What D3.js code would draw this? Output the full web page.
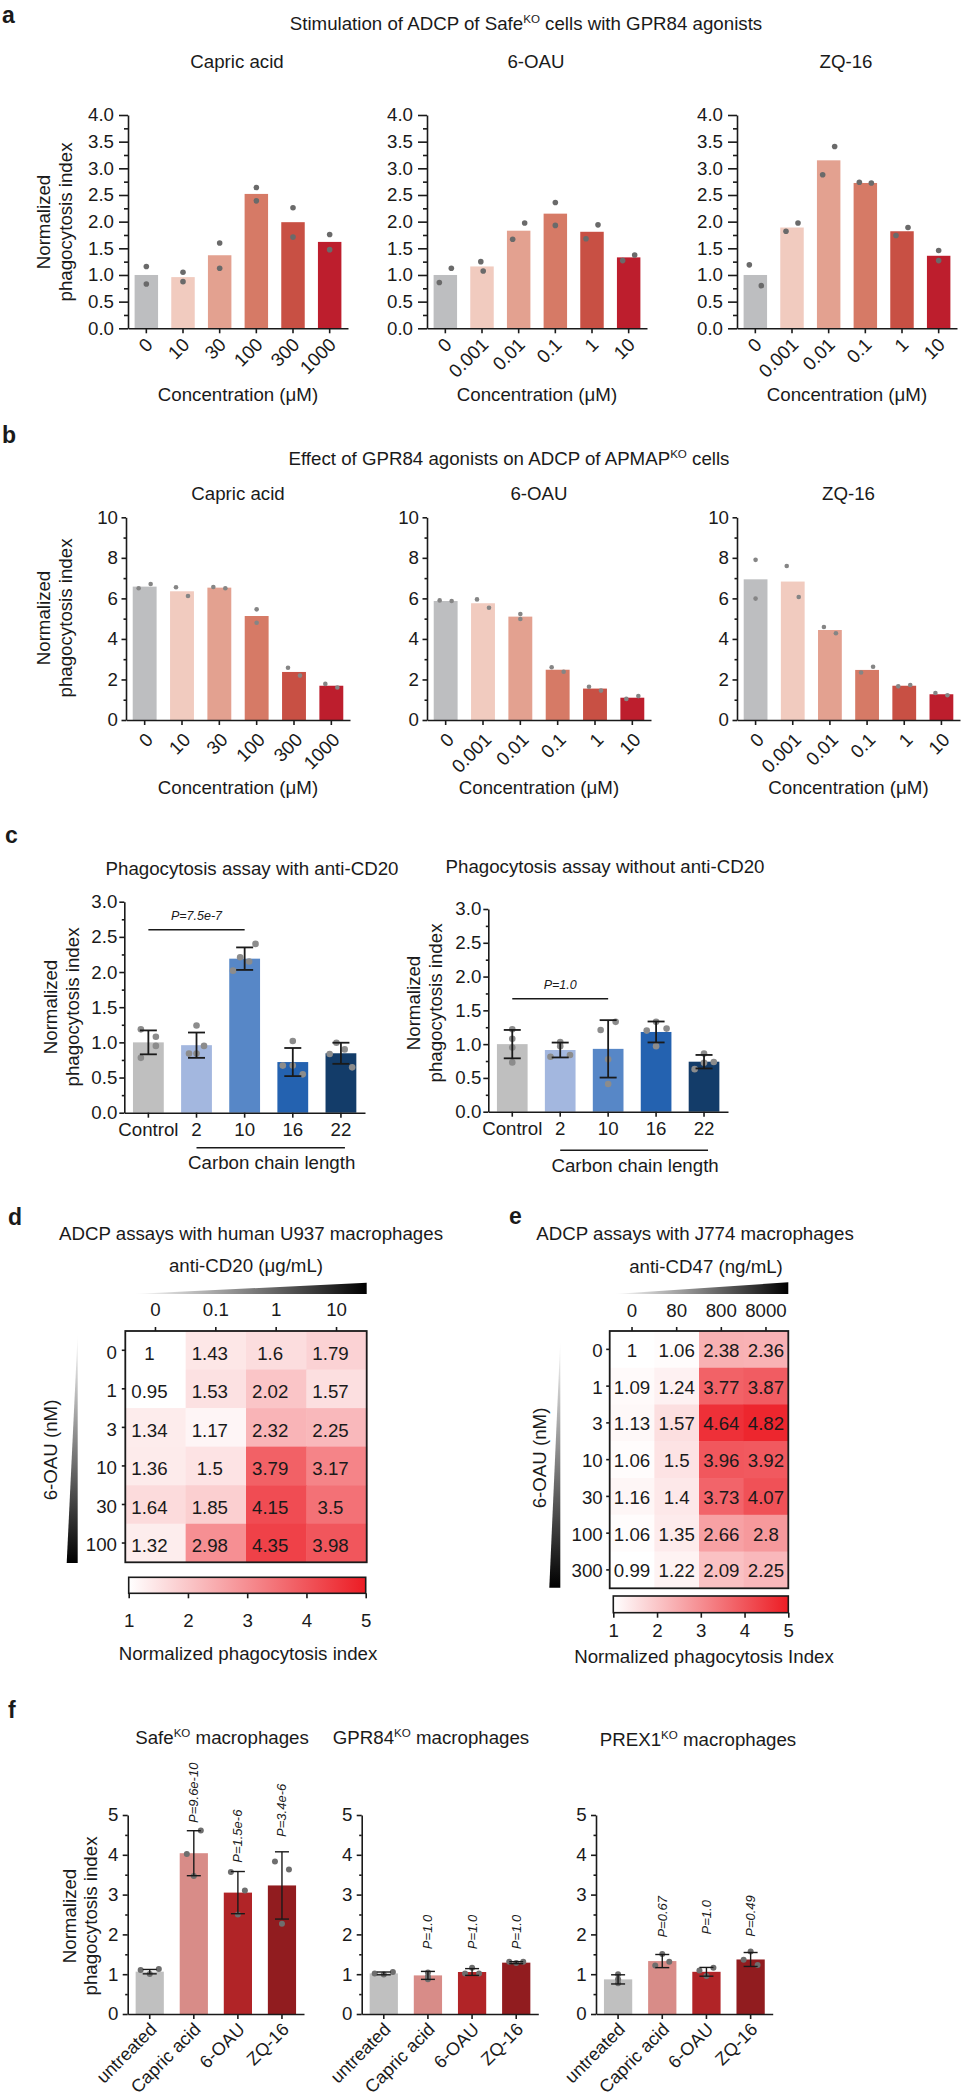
<!DOCTYPE html>
<html><head><meta charset="utf-8">
<script src="https://cdn.jsdelivr.net/npm/d3@7"></script>
<style>
body{margin:0;background:#fff;}
svg text{font-family:"Liberation Sans", Arial, sans-serif; fill:#1a1a1a;}
</style></head><body>
<svg id="fig" width="962" height="2100"></svg>
<script>
// ================= DATA =================
// Panel a / b categories
const concCapric = ["0","10","30","100","300","1000"];
const concAgonist = ["0","0.001","0.01","0.1","1","10"];
const aTicks = [0,0.5,1,1.5,2,2.5,3,3.5,4];
const bTicks = [0,2,4,6,8,10];

// Panel a: Safe KO, two replicates per condition
const aCapricMean = [1.00,0.96,1.37,2.52,1.99,1.62];
const aCapricRep1 = [1.16,1.05,1.60,2.64,2.26,1.76];
const aCapricRep2 = [0.83,0.875,1.125,2.39,1.71,1.475];
const aOauMean = [1.00,1.16,1.83,2.15,1.81,1.33];
const aOauRep1 = [0.86,1.25,1.67,2.36,1.68,1.27];
const aOauRep2 = [1.125,1.075,1.975,1.93,1.94,1.375];
const aZqMean = [1.00,1.89,3.15,2.725,1.82,1.36];
const aZqRep1 = [1.19,1.82,2.88,2.74,1.74,1.46];
const aZqRep2 = [0.80,1.975,3.41,2.725,1.89,1.27];

// Panel b: APMAP KO
const bCapricMean = [6.58,6.35,6.53,5.13,2.37,1.69];
const bCapricRep1 = [6.50,6.55,6.56,5.46,2.58,1.78];
const bCapricRep2 = [6.71,6.12,6.50,4.80,2.19,1.60];
const bOauMean = [5.87,5.76,5.10,2.48,1.55,1.10];
const bOauRep1 = [5.90,5.95,5.23,2.60,1.64,1.04];
const bOauRep2 = [5.87,5.54,4.98,2.38,1.45,1.18];
const bZqMean = [6.94,6.83,4.44,2.47,1.69,1.27];
const bZqRep1 = [7.90,7.60,4.59,2.34,1.66,1.33];
const bZqRep2 = [5.99,6.07,4.28,2.63,1.73,1.22];

// Panel c
const chainGroups = ["Control","2","10","16","22"];
const cTicks = [0,0.5,1,1.5,2,2.5,3];
const cWithMean = [1.00,0.96,2.19,0.72,0.845];
const cWithSD = [0.17,0.18,0.16,0.20,0.15];
const cWithPoints = [[1.185,1.08,0.95,0.78],[1.24,0.95,0.84,0.84],[2.40,2.21,2.15,2.02],[1.02,0.67,0.67,0.545],[0.995,0.834,0.90,0.645]];
const cWithP = "P=7.5e-7";
const cWithoutMean = [1.00,0.913,0.93,1.18,0.74];
const cWithoutSD = [0.21,0.11,0.425,0.155,0.10];
const cWithoutPoints = [[1.22,1.08,0.95,0.73],[1.03,0.97,0.814,0.84],[1.33,1.21,0.775,0.41],[1.33,1.20,1.23,0.97],[0.86,0.63,0.725,0.735]];
const cWithoutP = "P=1.0";

// Panel d heatmap
const dCols = ["0","0.1","1","10"];
const dRows = ["0","1","3","10","30","100"];
const dValues = [
  [1,1.43,1.6,1.79],
  [0.95,1.53,2.02,1.57],
  [1.34,1.17,2.32,2.25],
  [1.36,1.5,3.79,3.17],
  [1.64,1.85,4.15,3.5],
  [1.32,2.98,4.35,3.98]];
// Panel e heatmap
const eCols = ["0","80","800","8000"];
const eRows = ["0","1","3","10","30","100","300"];
const eValues = [
  [1,1.06,2.38,2.36],
  [1.09,1.24,3.77,3.87],
  [1.13,1.57,4.64,4.82],
  [1.06,1.5,3.96,3.92],
  [1.16,1.4,3.73,4.07],
  [1.06,1.35,2.66,2.8],
  [0.99,1.22,2.09,2.25]];
const cbarTicks = [1,2,3,4,5];

// Panel f
const fGroups = ["untreated","Capric acid","6-OAU","ZQ-16"];
const fTicks = [0,1,2,3,4,5];
const fSafeMean = [1.064,4.04,3.05,3.23];
const fSafeSD = [0.055,0.565,0.53,0.845];
const fSafePoints = [[1.105,1.005,1.13],[4.02,4.61,3.47],[3.57,3.10,2.50],[3.83,3.63,2.27]];
const fSafeP = ["","P=9.6e-10","P=1.5e-6","P=3.4e-6"];
const fGprMean = [1.02,0.97,1.055,1.29];
const fGprSD = [0.035,0.10,0.085,0.025];
const fGprPoints = [[1.02,0.99,1.055],[1.04,0.94,0.87],[1.02,1.16,1.02],[1.31,1.28,1.31]];
const fGprP = ["","P=1.0","P=1.0","P=1.0"];
const fPrexMean = [0.87,1.33,1.06,1.37];
const fPrexSD = [0.115,0.165,0.11,0.175];
const fPrexPoints = [[1.00,0.87,0.77],[1.51,1.22,1.31],[1.09,0.955,1.165],[1.57,1.36,1.23]];
const fPrexP = ["","P=0.67","P=1.0","P=0.49"];

// ================= DRAWING =================
const FS = 18.7;
const INK = "#1a1a1a";
const redPal = ["#bdbec0","#f1cbbf","#e3a190","#d67a66","#c85044","#bd1e2d"];
const bluePal = ["#bfbfbf","#a3b7df","#5787c7","#2462b0","#133c69"];
const fPal = ["#c0c0c0","#d88c88","#b12427","#911c1f"];
const svg = d3.select("#fig");
const defs = svg.append("defs");

function label(t,x,y){
  svg.append("text").attr("x",x).attr("y",y).attr("font-weight","bold").attr("font-size",23).text(t);
}
function rich(x,y,parts,size,anchor){
  const t = svg.append("text").attr("x",x).attr("y",y).attr("font-size",size||FS).attr("text-anchor",anchor||"middle");
  let shifted=false;
  parts.forEach(p=>{
    if(typeof p==="string"){
      const s=t.append("tspan").text(p);
      if(shifted){s.attr("dy",7.5);shifted=false;}
    } else {
      t.append("tspan").attr("dy",-7.5).attr("font-size",(size||FS)*0.62).text(p.sup);
      shifted=true;
    }
  });
  return t;
}
function yLabel(b1,cy,lines,gap){
  const g = svg.append("g").attr("transform",`translate(0,${cy}) rotate(-90)`);
  lines.forEach((l,i)=>g.append("text").attr("x",0).attr("y",b1+i*gap).attr("text-anchor","middle").attr("font-size",FS).text(l));
}
function styleAxis(sel,fs){
  sel.attr("font-size",fs||FS);
  sel.selectAll("path.domain").attr("stroke",INK).attr("stroke-width",1.6);
  sel.selectAll(".tick line").attr("stroke",INK).attr("stroke-width",1.6);
  sel.selectAll("text").attr("fill",INK);
}

function barChart(c){
  const x = d3.scaleBand().domain(c.cats).range([c.x0,c.x1]).paddingInner(0.36).paddingOuter(0.18);
  const y = d3.scaleLinear().domain([0,c.max]).range([c.yBase,c.yTop]);
  const g = svg.append("g");
  const idx = d3.range(c.cats.length);
  const cx = i => x(c.cats[i]) + x.bandwidth()/2;
  g.selectAll("rect.bar").data(idx).join("rect").attr("class","bar")
    .attr("x",i=>x(c.cats[i])).attr("width",x.bandwidth())
    .attr("y",i=>y(c.mean[i])).attr("height",i=>y(0)-y(c.mean[i]))
    .attr("fill",i=>c.colors[i]);
  const pts=[];
  c.points.forEach((arr,i)=>arr.forEach((v,j)=>pts.push({i,v,j:c.jit[i][j]})));
  g.selectAll("circle").data(pts).join("circle")
    .attr("cx",d=>cx(d.i)+d.j*c.jitPx).attr("cy",d=>y(d.v))
    .attr("r",c.dotR).attr("fill",c.dotColor);
  if(c.sd){
    const eb = g.selectAll("g.eb").data(idx).join("g").attr("class","eb")
      .attr("stroke",INK).attr("stroke-width",c.ebW).attr("fill","none");
    eb.append("line").attr("x1",cx).attr("x2",cx).attr("y1",i=>y(c.mean[i]-c.sd[i])).attr("y2",i=>y(c.mean[i]+c.sd[i]));
    eb.append("line").attr("x1",i=>cx(i)-c.capW).attr("x2",i=>cx(i)+c.capW).attr("y1",i=>y(c.mean[i]+c.sd[i])).attr("y2",i=>y(c.mean[i]+c.sd[i]));
    eb.append("line").attr("x1",i=>cx(i)-c.capW).attr("x2",i=>cx(i)+c.capW).attr("y1",i=>y(c.mean[i]-c.sd[i])).attr("y2",i=>y(c.mean[i]-c.sd[i]));
  }
  // y axis
  const ya = g.append("g").attr("transform",`translate(${c.x0},0)`)
    .call(d3.axisLeft(y).tickValues(c.yTicks).tickFormat(c.fmt).tickSize(c.tickLen).tickPadding(c.tickPad).tickSizeOuter(0));
  styleAxis(ya);
  const ym = g.append("g").attr("transform",`translate(${c.x0},0)`)
    .call(d3.axisLeft(y).tickValues(c.minor).tickFormat("").tickSize(c.minorLen).tickSizeOuter(0));
  ym.select(".domain").remove();
  styleAxis(ym);
  // x axis
  const xa = g.append("g").attr("transform",`translate(0,${c.yBase})`)
    .call(d3.axisBottom(x).tickSize(5).tickSizeOuter(0).tickPadding(c.xPad||4.7));
  styleAxis(xa, c.xFs);
  if(c.rot){
    xa.selectAll("text").attr("x",0).attr("y",0).attr("dy",0).attr("text-anchor","end")
      .attr("transform",`translate(${c.rot[0]},${c.rot[1]}) rotate(-45)`);
  }
  return {x,y,g,cx};
}

// ---------- Panel a ----------
label("a",2,23);
rich(526,30,["Stimulation of ADCP of Safe",{sup:"KO"}," cells with GPR84 agonists"]);
const aCommon = {max:4,yBase:328.3,yTop:115,yTicks:aTicks,minor:d3.range(0.25,4,0.5),fmt:d3.format(".1f"),
  tickLen:9,minorLen:4,tickPad:5,dotR:2.8,dotColor:"#6a6a6a",jitPx:6,colors:redPal,rot:[7.5,17.5]};
const aCharts = [
  {t:"Capric acid",x0:128,x1:348,cats:concCapric,mean:aCapricMean,r1:aCapricRep1,r2:aCapricRep2,j1:[0,0,0,0,0,0],j2:[0,0,0,0,0,0]},
  {t:"6-OAU",x0:427,x1:647,cats:concAgonist,mean:aOauMean,r1:aOauRep1,r2:aOauRep2,j1:[-1,-0.2,-1,0,-1,-1],j2:[1,0.2,1,0,1,1]},
  {t:"ZQ-16",x0:737,x1:957,cats:concAgonist,mean:aZqMean,r1:aZqRep1,r2:aZqRep2,j1:[-1,-1,-1,-1,-1,0],j2:[1,1,1,1,1,0]}
];
aCharts.forEach(p=>{
  barChart(Object.assign({},aCommon,{x0:p.x0,x1:p.x1,cats:p.cats,mean:p.mean,
    points:p.r1.map((v,i)=>[v,p.r2[i]]),jit:p.j1.map((v,i)=>[v,p.j2[i]])}));
  const mid=(p.x0+p.x1)/2;
  rich(mid-1,68,[p.t]);
  rich(mid,401,["Concentration (μM)"]);
});
yLabel(50,222,["Normalized","phagocytosis index"],22);

// ---------- Panel b ----------
label("b",2,443);
rich(509,465,["Effect of GPR84 agonists on ADCP of APMAP",{sup:"KO"}," cells"]);
const bCommon = {max:10,yBase:720,yTop:517.3,yTicks:bTicks,minor:[1,3,5,7,9],fmt:d3.format("d"),
  tickLen:4.5,minorLen:2.5,tickPad:3.5,dotR:2.3,dotColor:"#858585",jitPx:6,colors:redPal,rot:[9.5,21]};
const bCharts = [
  {t:"Capric acid",x0:126,x1:350,cats:concCapric,mean:bCapricMean,r1:bCapricRep1,r2:bCapricRep2,j1:[-1,-1,-1,0,-1,-1],j2:[1,1,1,0,1,1]},
  {t:"6-OAU",x0:427,x1:651,cats:concAgonist,mean:bOauMean,r1:bOauRep1,r2:bOauRep2,j1:[-1,-1,0,-1,-1,-1],j2:[1,1,0,1,1,1]},
  {t:"ZQ-16",x0:737,x1:960,cats:concAgonist,mean:bZqMean,r1:bZqRep1,r2:bZqRep2,j1:[0,-1,-1,-1,-1,-1],j2:[0,1,1,1,1,1]}
];
bCharts.forEach(p=>{
  barChart(Object.assign({},bCommon,{x0:p.x0,x1:p.x1,cats:p.cats,mean:p.mean,
    points:p.r1.map((v,i)=>[v,p.r2[i]]),jit:p.j1.map((v,i)=>[v,p.j2[i]])}));
  const mid=(p.x0+p.x1)/2;
  rich(mid,500,[p.t]);
  rich(mid,794,["Concentration (μM)"]);
});
yLabel(50,618,["Normalized","phagocytosis index"],22);

// ---------- Panel c ----------
label("c",5,843);
const cCommon = {max:3,yTicks:cTicks,minor:d3.range(0.25,3,0.5),fmt:d3.format(".1f"),tickLen:5,minorLen:2.5,tickPad:2,
  dotR:3.3,dotColor:"#8c8c8c",jitPx:7.5,colors:bluePal,ebW:1.8,capW:8.5,xPad:4.7,cats:chainGroups};
function cPanel(o){
  const ch = barChart(Object.assign({},cCommon,o));
  const x1 = ch.cx(0), x2 = ch.cx(2), yy = ch.y(o.pAt);
  svg.append("line").attr("x1",x1).attr("x2",x2).attr("y1",yy).attr("y2",yy).attr("stroke",INK).attr("stroke-width",1.5);
  svg.append("text").attr("x",(x1+x2)/2).attr("y",yy-10).attr("text-anchor","middle").attr("font-size",12.5)
    .attr("font-style","italic").attr("fill","#444").text(o.pText);
  const by = o.yBase+o.bracketDy;
  svg.append("line").attr("x1",ch.cx(1)).attr("x2",ch.cx(4)+4).attr("y1",by).attr("y2",by).attr("stroke",INK).attr("stroke-width",1.5);
  rich((ch.cx(1)+ch.cx(4))/2+3,by+21.5,["Carbon chain length"]);
}
rich(252,875,["Phagocytosis assay with anti-CD20"]);
rich(605,873,["Phagocytosis assay without anti-CD20"]);
cPanel({x0:124.3,x1:365,yBase:1112.7,yTop:901.7,mean:cWithMean,sd:cWithSD,points:cWithPoints,
  jit:[[-1,1,1,-1],[0,1,-1,0],[1.45,-0.6,0.6,-1.55],[0,-1.33,0,1.33],[-0.6,-1.5,0.5,1.5]],pAt:2.6,pText:cWithP,bracketDy:35});
cPanel({x0:488.3,x1:728,yBase:1111.7,yTop:909,mean:cWithoutMean,sd:cWithoutSD,points:cWithoutPoints,
  jit:[[0,0,0,0],[0,0,-1.3,1.3],[1,-1,0,0],[0,-1.25,1.4,0],[0,-1.25,0,1.3]],pAt:1.67,pText:cWithoutP,bracketDy:38.5});
yLabel(57,1007,["Normalized","phagocytosis index"],22);
yLabel(420,1003,["Normalized","phagocytosis index"],22);

// ---------- Panels d & e (heatmaps) ----------
const heatColor = d3.scaleLinear().domain([1,5]).range(["#ffffff","#ec1c24"]).clamp(true);
function gradient(id,x2,y2,c0,c1){
  const gr = defs.append("linearGradient").attr("id",id).attr("x1",0).attr("y1",0).attr("x2",x2).attr("y2",y2);
  gr.append("stop").attr("offset",0).attr("stop-color",c0);
  gr.append("stop").attr("offset",1).attr("stop-color",c1);
}
gradient("wedgeH",1,0,"#ffffff","#000000");
gradient("wedgeV",0,1,"#ffffff","#000000");
gradient("cbar",1,0,"#ffffff","#ec1c24");

function heatmap(h){
  const x = d3.scaleBand().domain(h.cols).range([h.x0,h.x1]);
  const y = d3.scaleBand().domain(h.rows).range([h.y0,h.y1]);
  const g = svg.append("g");
  const cells=[];
  h.values.forEach((row,ri)=>row.forEach((v,ci)=>cells.push({r:h.rows[ri],c:h.cols[ci],v})));
  g.selectAll("rect.cell").data(cells).join("rect").attr("class","cell")
    .attr("x",d=>x(d.c)).attr("y",d=>y(d.r)).attr("width",x.bandwidth()+0.5).attr("height",y.bandwidth()+0.5)
    .attr("fill",d=>heatColor(d.v));
  g.selectAll("text.val").data(cells).join("text").attr("class","val")
    .attr("x",d=>x(d.c)+x.bandwidth()/2+h.textDx).attr("y",d=>y(d.r)+y.bandwidth()/2)
    .attr("dy",h.textDy).attr("text-anchor","middle").attr("font-size",FS).text(d=>String(d.v));
  g.append("rect").attr("x",h.x0).attr("y",h.y0).attr("width",h.x1-h.x0).attr("height",h.y1-h.y0)
    .attr("fill","none").attr("stroke",INK).attr("stroke-width",1.8);
  const top = g.append("g").attr("transform",`translate(0,${h.y0})`).call(d3.axisTop(x).tickSize(4).tickPadding(h.colPad));
  top.select(".domain").remove(); styleAxis(top);
  const left = g.append("g").attr("transform",`translate(${h.x0},0)`).call(d3.axisLeft(y).tickSize(3.5).tickPadding(h.rowPad));
  left.select(".domain").remove(); styleAxis(left);
  left.selectAll("text").attr("dy",h.rowDy);
  // wedges
  svg.append("path").attr("d",`M${h.wedgeTop[0]},${h.wedgeTop[2]}L${h.x1},${h.wedgeTop[2]}L${h.x1},${h.wedgeTop[1]}Z`).attr("fill","url(#wedgeH)");
  svg.append("path").attr("d",`M${h.wedgeLeft[1]},${h.wedgeLeft[2]}L${h.wedgeLeft[1]},${h.wedgeLeft[3]}L${h.wedgeLeft[0]},${h.wedgeLeft[3]}Z`).attr("fill","url(#wedgeV)");
  // colour bar
  const cb = h.cbar;
  const cs = d3.scaleLinear().domain([1,5]).range([cb.x0,cb.x1]);
  svg.append("rect").attr("x",cb.x0).attr("y",cb.y0).attr("width",cb.x1-cb.x0).attr("height",cb.y1-cb.y0)
    .attr("fill","url(#cbar)").attr("stroke",INK).attr("stroke-width",1.6);
  const ca = svg.append("g").attr("transform",`translate(0,${cb.y1})`).call(d3.axisBottom(cs).tickValues(cbarTicks).tickFormat(d3.format("d")).tickSize(5).tickPadding(cb.pad));
  ca.select(".domain").remove(); styleAxis(ca);
  rich(cb.tx,cb.ty,[cb.title]);
}
label("d",8,1225);
rich(251,1240,["ADCP assays with human U937 macrophages"]);
rich(246,1272,["anti-CD20 (μg/mL)"]);
heatmap({cols:dCols,rows:dRows,values:dValues,x0:125.3,x1:366.7,y0:1331,y1:1562.3,textDx:-6,textDy:"0.5em",
  colPad:11,rowPad:4.8,rowDy:"0.45em",wedgeTop:[133,1282.7,1294],wedgeLeft:[66.7,77.7,1333,1563],
  cbar:{x0:128.7,x1:365.7,y0:1577.3,y1:1593.3,pad:15,title:"Normalized phagocytosis index",tx:248,ty:1660}});
svg.append("g").attr("transform","translate(0,1450) rotate(-90)").append("text").attr("x",0).attr("y",57)
  .attr("text-anchor","middle").attr("font-size",FS).text("6-OAU (nM)");

label("e",509,1224);
rich(695,1240,["ADCP assays with J774 macrophages"]);
rich(706,1273,["anti-CD47 (ng/mL)"]);
heatmap({cols:eCols,rows:eRows,values:eValues,x0:609.7,x1:788.3,y0:1331,y1:1588.3,textDx:0,textDy:"0.4em",
  colPad:10.3,rowPad:3.5,rowDy:"0.4em",wedgeTop:[614,1282.3,1294],wedgeLeft:[549.3,560.3,1340,1587.7],
  cbar:{x0:613.3,x1:788.3,y0:1596,y1:1612.7,pad:5.7,title:"Normalized phagocytosis Index",tx:704,ty:1663}});
svg.append("g").attr("transform","translate(0,1458) rotate(-90)").append("text").attr("x",0).attr("y",546)
  .attr("text-anchor","middle").attr("font-size",FS).text("6-OAU (nM)");

// ---------- Panel f ----------
label("f",8,1718);
rich(222,1744,["Safe",{sup:"KO"}," macrophages"]);
rich(431,1744,["GPR84",{sup:"KO"}," macrophages"]);
rich(698,1746,["PREX1",{sup:"KO"}," macrophages"]);
const fCommon = {max:5,yBase:2014,yTop:1815,yTicks:fTicks,minor:d3.range(0.5,5,1),fmt:d3.format("d"),tickLen:5,minorLen:2.5,tickPad:4.4,
  dotR:3,dotColor:"#6e6e6e",jitPx:7,colors:fPal,ebW:1.4,capW:7,cats:fGroups,rot:[8,16.5],xFs:18};
function fPanel(o){
  const ch = barChart(Object.assign({},fCommon,o));
  o.pText.forEach((t,i)=>{
    if(!t) return;
    svg.append("g").attr("transform",`translate(${ch.cx(i)+4.5},${ch.y(o.pAt[i])}) rotate(-90)`)
      .append("text").attr("x",0).attr("y",0).attr("font-size",13).attr("font-style","italic").attr("fill","#333").text(t);
  });
}
fPanel({x0:127.7,x1:304,mean:fSafeMean,sd:fSafeSD,points:fSafePoints,pText:fSafeP,pAt:[0,4.8,3.8,4.45],
  jit:[[-1.3,0,1.3],[-1,1,0],[-1,1,0],[-1,1,0]]});
fPanel({x0:361.7,x1:538.3,mean:fGprMean,sd:fGprSD,points:fGprPoints,pText:fGprP,pAt:[0,1.63,1.63,1.63],
  jit:[[-1.3,0,1.3],[0,0,0],[-1,0,1],[-1,0,1]]});
fPanel({x0:596,x1:772.7,mean:fPrexMean,sd:fPrexSD,points:fPrexPoints,pText:fPrexP,pAt:[0,1.92,2.0,1.94],
  jit:[[0,0,0],[0,-1,1],[-1,0,1],[0,-1,1]]});
yLabel(76,1916,["Normalized","phagocytosis index"],21);
</script>
</body></html>
